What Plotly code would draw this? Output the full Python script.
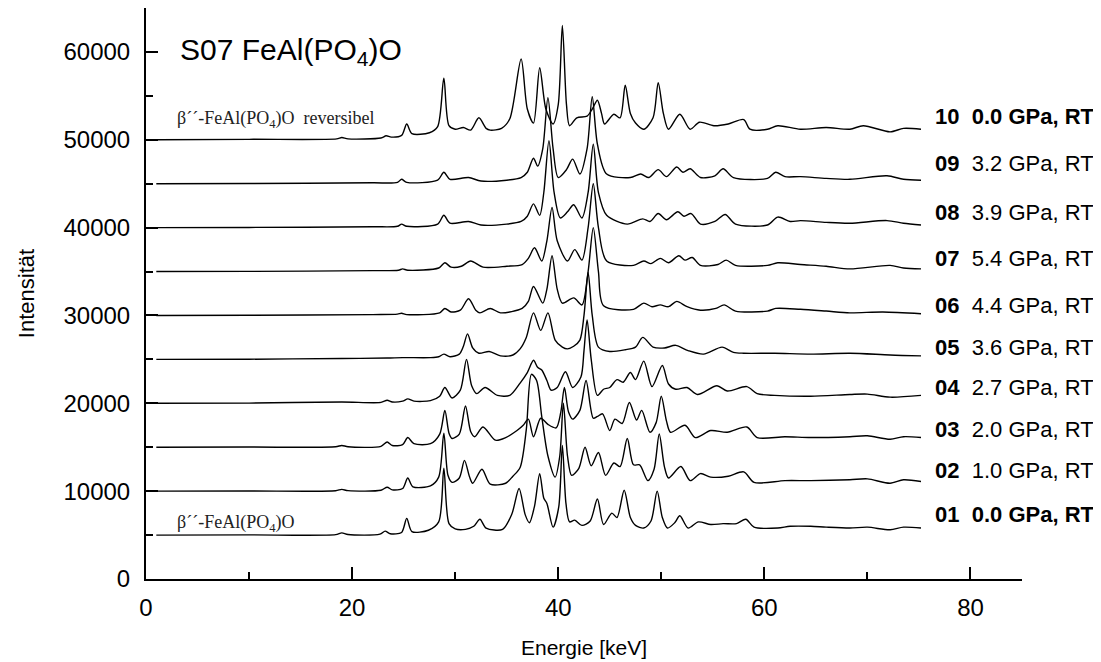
import plotly.graph_objects as go

# ---- data: (energy keV, intensity) ----
s01 = [(1.0, 5000), (10.0, 5020), (18.4, 5050), (19.0, 5250), (19.6, 5060), (22.7, 5100), (23.2, 5450), (23.7, 5150),
       (24.8, 5300), (25.3, 6900), (25.8, 5400), (27.4, 5550), (28.4, 6500), (28.9, 12600), (29.4, 6300), (30.0, 5700),
       (31.0, 5650), (31.8, 6000), (32.4, 6800), (33.0, 5800), (34.6, 5650), (35.5, 7400), (36.2, 10300), (36.8, 7300),
       (37.2, 6400), (37.7, 8300), (38.2, 12000), (38.6, 9200), (38.9, 8600), (39.5, 5900), (40.05, 8200), (40.4, 15200),
       (40.75, 8600), (41.1, 6500), (41.6, 6700), (42.3, 6100), (43.1, 6600), (43.8, 9100), (44.4, 6200), (45.2, 7500),
       (45.7, 7000), (46.4, 10100), (47.0, 7000), (47.5, 6100), (48.3, 5800), (49.0, 6600), (49.6, 10000), (50.1, 7000),
       (50.6, 5800), (51.3, 6400), (51.8, 7200), (52.6, 5800), (53.6, 6500), (54.8, 6200), (56.0, 6300), (57.3, 6300),
       (58.2, 6800), (59.0, 5900), (61.3, 5800), (62.5, 6000), (64.5, 6000), (66.0, 5900), (68.3, 5800), (70.0, 5900),
       (72.2, 5600), (73.5, 5900), (75.2, 5800)]

s02 = [(1.0, 10000), (10.0, 10020), (18.4, 10050), (19.0, 10200), (19.6, 10060), (22.8, 10100), (23.4, 10450), (23.9, 10150),
       (24.9, 10300), (25.4, 11500), (25.9, 10500), (27.6, 10600), (28.4, 11600), (28.9, 16600), (29.3, 11800), (29.7, 11000),
       (30.4, 11500), (30.9, 13500), (31.4, 11600), (31.7, 10900), (32.6, 12500), (33.4, 10800), (34.9, 10900), (35.6, 11700),
       (36.3, 12700), (36.9, 17000), (37.4, 23300), (37.9, 22600), (38.4, 18500), (39.0, 14000), (39.7, 11600), (40.15, 14000),
       (40.5, 20000), (40.9, 14000), (41.3, 11800), (42.0, 12600), (42.6, 15000), (43.2, 12900), (43.9, 14400), (44.6, 11800),
       (45.4, 13200), (46.0, 12800), (46.7, 16000), (47.3, 13000), (47.9, 13000), (48.7, 11200), (49.3, 12500), (49.8, 16500),
       (50.3, 12800), (50.7, 11500), (51.9, 12800), (52.8, 11200), (53.8, 12000), (54.8, 11600), (56.5, 11700), (58.0, 12200),
       (59.0, 11000), (62.0, 11200), (64.5, 11200), (68.3, 11300), (70.0, 11400), (72.2, 10900), (73.5, 11300), (75.2, 11100)]

s03 = [(1.0, 15000), (10.0, 15020), (18.4, 15050), (19.0, 15200), (19.6, 15060), (22.8, 15100), (23.4, 15600), (23.9, 15200),
       (24.9, 15300), (25.4, 16100), (26.0, 15400), (27.6, 15400), (28.5, 16500), (29.0, 19200), (29.4, 16600), (29.7, 16000),
       (30.4, 16500), (31.0, 19700), (31.5, 16800), (31.9, 16200), (32.7, 17300), (33.9, 15800), (34.9, 16100), (36.0, 16900),
       (36.6, 17500), (37.1, 18200), (37.6, 16200), (38.3, 18300), (39.0, 17600), (39.8, 17200), (40.25, 19000), (40.6, 21800),
       (41.0, 19000), (41.4, 18200), (42.1, 19200), (42.7, 22600), (43.4, 18300), (43.8, 18500), (44.3, 18800), (45.0, 16900),
       (45.5, 18200), (46.2, 17700), (46.9, 20100), (47.6, 18100), (48.1, 19200), (48.9, 16700), (49.5, 17800), (50.0, 20800),
       (50.5, 18000), (50.9, 16700), (52.3, 17500), (53.3, 16100), (54.8, 16900), (56.4, 16700), (58.3, 17300), (59.3, 16100),
       (62.0, 16200), (64.5, 16100), (68.3, 16200), (70.0, 16300), (72.2, 15900), (73.5, 16200), (75.2, 16100)]

s04 = [(1.0, 20000), (10.0, 20020), (19.0, 20150), (22.8, 20100), (23.4, 20350), (23.9, 20150), (24.9, 20250), (25.4, 20500),
       (26.0, 20250), (27.6, 20300), (28.5, 20800), (29.0, 21800), (29.7, 20600), (30.5, 21500), (31.1, 25000), (31.6, 22000),
       (32.1, 21100), (32.9, 21800), (34.1, 20900), (35.3, 20900), (36.3, 22300), (37.0, 23500), (37.6, 24900), (38.0, 24100),
       (38.4, 23800), (38.9, 22600), (39.3, 21500), (39.9, 21800), (40.7, 23600), (41.4, 21800), (42.2, 23000), (42.5, 26000),
       (42.8, 29500), (43.2, 25000), (43.8, 20900), (44.4, 21600), (45.0, 21800), (45.7, 22700), (46.3, 22400), (47.0, 23500),
       (47.5, 22700), (48.3, 24800), (49.1, 21900), (50.1, 24300), (50.7, 22200), (51.4, 21600), (52.5, 21800), (53.5, 21000),
       (55.4, 22000), (56.4, 21400), (58.3, 21900), (59.3, 21100), (61.0, 20900), (64.5, 20800), (68.3, 21000), (70.0, 21050),
       (72.2, 20700), (75.2, 20900)]

s05 = [(1.0, 25000), (10.0, 25020), (19.0, 25100), (23.4, 25150), (24.9, 25200), (27.6, 25200), (28.4, 25300), (28.9, 25600),
       (29.5, 25300), (30.4, 25600), (30.8, 26500), (31.2, 27900), (31.7, 26300), (32.3, 25700), (33.3, 25900), (34.4, 25400),
       (35.6, 25500), (36.3, 26200), (36.9, 27500), (37.6, 30300), (38.3, 28300), (39.0, 30300), (39.7, 27200), (40.4, 26400),
       (40.9, 26200), (41.5, 26500), (42.1, 27200), (42.5, 30000), (42.9, 34900), (43.3, 30000), (43.9, 26400), (45.0, 25900),
       (46.5, 26100), (47.5, 26400), (48.2, 27500), (49.2, 26400), (50.3, 26300), (51.4, 26600), (52.6, 26000), (54.1, 25600),
       (55.9, 26400), (57.0, 25800), (58.0, 25700), (61.0, 25700), (64.5, 25600), (68.3, 25700), (72.2, 25500), (75.2, 25400)]

s06 = [(1.0, 30000), (10.0, 30020), (22.0, 30100), (24.4, 30150), (24.8, 30250), (25.3, 30100), (28.5, 30300), (29.0, 30800),
       (29.6, 30400), (30.5, 30600), (31.3, 31900), (32.0, 30600), (32.4, 30300), (33.4, 30800), (34.4, 30300), (36.5, 30800),
       (37.1, 31600), (37.6, 33300), (38.5, 31400), (38.9, 33000), (39.4, 36800), (39.9, 33000), (40.4, 31400), (41.5, 32000),
       (42.3, 31200), (42.9, 35000), (43.4, 40000), (43.9, 35000), (44.4, 31100), (47.3, 30700), (48.3, 31400), (49.1, 31000),
       (49.9, 31200), (50.7, 31000), (51.5, 31600), (52.5, 31000), (53.8, 30600), (55.3, 30800), (56.1, 31200), (57.2, 30500),
       (60.3, 30500), (61.1, 30800), (63.5, 30700), (66.0, 30500), (68.3, 30300), (71.5, 30400), (75.2, 30200)]

s07 = [(1.0, 35000), (10.0, 35020), (22.0, 35100), (24.5, 35150), (24.9, 35300), (25.4, 35150), (28.4, 35400), (29.0, 36000),
       (29.6, 35500), (30.6, 35600), (31.5, 36200), (32.7, 35500), (35.0, 35600), (36.5, 35800), (37.1, 36500), (37.7, 37700),
       (38.4, 36200), (38.9, 38500), (39.4, 42300), (39.9, 38500), (40.9, 36200), (41.6, 37500), (42.3, 36300), (42.9, 40000),
       (43.4, 45000), (43.9, 40000), (44.7, 36200), (47.3, 35700), (48.3, 36200), (49.0, 35900), (49.9, 36500), (50.7, 36000),
       (51.7, 36800), (52.3, 36300), (53.0, 36600), (53.8, 35700), (55.5, 35800), (56.3, 36300), (57.2, 35700), (60.3, 35700),
       (61.3, 36000), (63.5, 35800), (66.0, 35600), (68.3, 35300), (72.2, 35700), (73.5, 35400), (75.2, 35300)]

s08 = [(1.0, 40000), (10.0, 40020), (22.0, 40100), (24.4, 40150), (24.8, 40400), (25.3, 40150), (28.3, 40400), (28.9, 41400),
       (29.5, 40500), (31.3, 40700), (32.5, 40300), (35.0, 40400), (36.4, 40700), (37.0, 41300), (37.6, 42700), (38.2, 41400),
       (38.6, 44000), (39.1, 49900), (39.6, 44000), (40.2, 41100), (40.9, 41800), (41.5, 42600), (42.3, 41100), (42.9, 44000),
       (43.4, 49500), (43.9, 44000), (44.7, 41400), (46.7, 40400), (48.2, 41000), (48.9, 40700), (49.7, 41600), (50.5, 40900),
       (51.6, 41800), (52.2, 41300), (52.9, 41600), (53.8, 40400), (55.2, 40700), (56.2, 41500), (57.2, 40400), (60.3, 40300),
       (61.3, 41200), (62.5, 40700), (63.5, 40800), (66.0, 40600), (68.3, 40500), (71.9, 40800), (73.5, 40500), (75.2, 40300)]

s09 = [(1.0, 45000), (10.0, 45020), (22.0, 45100), (24.4, 45150), (24.8, 45500), (25.3, 45150), (28.3, 45400), (28.9, 46300),
       (29.5, 45500), (31.3, 45700), (32.5, 45300), (35.0, 45400), (36.4, 45700), (37.0, 46300), (37.6, 47900), (38.0, 47000),
       (38.5, 49000), (39.0, 54800), (39.5, 49000), (40.0, 45700), (40.8, 46600), (41.4, 47800), (42.1, 46100), (42.8, 49000),
       (43.3, 54900), (43.8, 49500), (44.7, 46100), (47.0, 45700), (48.0, 46100), (48.8, 45700), (49.7, 46600), (50.5, 45800),
       (51.5, 46900), (52.1, 46300), (52.8, 46700), (53.8, 45700), (55.2, 45900), (56.0, 46700), (57.0, 45700), (60.3, 45600),
       (61.1, 46300), (62.0, 45800), (63.5, 45800), (66.0, 45600), (68.3, 45500), (71.9, 45900), (73.5, 45500), (75.2, 45400)]

s10 = [(1.0, 50000), (10.0, 50050), (18.5, 50100), (19.0, 50250), (19.6, 50100), (22.8, 50200), (23.3, 50450), (23.8, 50300),
       (24.8, 50500), (25.3, 51800), (25.8, 50700), (27.5, 50800), (28.3, 51500), (28.9, 57000), (29.4, 51600), (30.0, 51200),
       (30.8, 51400), (31.5, 51100), (32.3, 52500), (33.0, 51300), (33.4, 51100), (34.5, 51300), (35.3, 52400), (36.4, 59200),
       (37.0, 53500), (37.6, 51900), (38.2, 58200), (38.8, 53500), (39.5, 51800), (40.0, 54000), (40.4, 63000), (40.8, 54000),
       (41.1, 51600), (41.8, 52500), (42.8, 52700), (43.3, 53500), (43.8, 54500), (44.2, 53000), (44.5, 51800), (45.4, 52900),
       (46.0, 52500), (46.5, 56200), (47.0, 53000), (47.5, 51900), (48.3, 51200), (49.2, 52500), (49.7, 56500), (50.2, 53000),
       (50.7, 51200), (51.8, 52900), (52.8, 51200), (53.7, 52000), (55.1, 51600), (56.5, 51800), (58.0, 52300), (58.6, 51200),
       (60.3, 51200), (61.3, 51600), (63.5, 51200), (66.0, 51400), (68.3, 51200), (69.6, 51600), (72.2, 50900), (73.5, 51300),
       (75.2, 51200)]

spectra = [s01, s02, s03, s04, s05, s06, s07, s08, s09, s10]

label_nums = ["01", "02", "03", "04", "05", "06", "07", "08", "09", "10"]
label_texts = ["0.0 GPa, RT", "1.0 GPa, RT", "2.0 GPa, RT", "2.7 GPa, RT", "3.6 GPa, RT",
               "4.4 GPa, RT", "5.4 GPa, RT", "3.9 GPa, RT", "3.2 GPa, RT", "0.0 GPa, RT"]
label_bold_all = [True, False, False, False, False, False, False, False, False, True]
label_y = [7300, 12400, 17000, 21800, 26400, 31100, 36500, 41700, 47300, 52700]

x_ticks = [0, 20, 40, 60, 80]
y_ticks = [0, 10000, 20000, 30000, 40000, 50000, 60000]

FONT = "Liberation Sans, Arial, sans-serif"
SERIF = "Liberation Serif, Times New Roman, serif"

fig = go.Figure()
for s in spectra:
    fig.add_trace(go.Scatter(
        x=[p[0] for p in s], y=[p[1] for p in s], mode="lines",
        line=dict(color="black", width=1.4, shape="spline", smoothing=0.8),
        showlegend=False, hoverinfo="skip"))

for num, txt, b, yy in zip(label_nums, label_texts, label_bold_all, label_y):
    t = f"<b>{num}  {txt}</b>" if b else f"<b>{num}</b>  {txt}"
    fig.add_annotation(x=76.4, y=yy, xref="x", yref="y", text=t, showarrow=False,
                       xanchor="left", yanchor="middle", font=dict(family=FONT, size=22, color="black"))

fig.add_annotation(x=3.1, y=60000, xref="x", yref="y", text="S07 FeAl(PO<sub>4</sub>)O", showarrow=False,
                   xanchor="left", yanchor="middle", font=dict(family=FONT, size=30, color="black"))
fig.add_annotation(x=2.8, y=52300, xref="x", yref="y", text="β´´-FeAl(PO<sub>4</sub>)O  reversibel", showarrow=False,
                   xanchor="left", yanchor="middle", font=dict(family=SERIF, size=18, color="#222"))
fig.add_annotation(x=2.8, y=6300, xref="x", yref="y", text="β´´-FeAl(PO<sub>4</sub>)O", showarrow=False,
                   xanchor="left", yanchor="middle", font=dict(family=SERIF, size=18, color="#222"))

# the page body has an 8px margin, so the figure is drawn 8px smaller and margins shifted
fig.update_layout(
    width=1093, height=654,
    margin=dict(l=138, r=79, t=0, b=83, autoexpand=False),
    plot_bgcolor="white", paper_bgcolor="white",
    font=dict(family=FONT, color="black"),
    xaxis=dict(range=[0, 85], tickvals=x_ticks, showgrid=False, zeroline=False, automargin=False,
               showline=True, linecolor="black", linewidth=2,
               ticks="inside", ticklen=12, tickwidth=2, tickcolor="black",
               minor=dict(ticks="inside", ticklen=7, tickwidth=1.5, dtick=10, tick0=0, tickcolor="black"),
               tickfont=dict(family=FONT, size=24, color="black"), ticklabelstandoff=6,
               title=dict(text="Energie [keV]", font=dict(family=FONT, size=21, color="black"), standoff=21)),
    yaxis=dict(range=[0, 65000], tickvals=y_ticks, tickformat="d", showgrid=False, zeroline=False, automargin=False,
               showline=True, linecolor="black", linewidth=2,
               ticks="inside", ticklen=12, tickwidth=2, tickcolor="black",
               minor=dict(ticks="inside", ticklen=7, tickwidth=1.5, dtick=5000, tick0=0, tickcolor="black"),
               tickfont=dict(family=FONT, size=24, color="black"), ticklabelstandoff=9,
               title=dict(text="Intensität", font=dict(family=FONT, size=22, color="black"), standoff=23)),
)

fig.write_html("out.html")
